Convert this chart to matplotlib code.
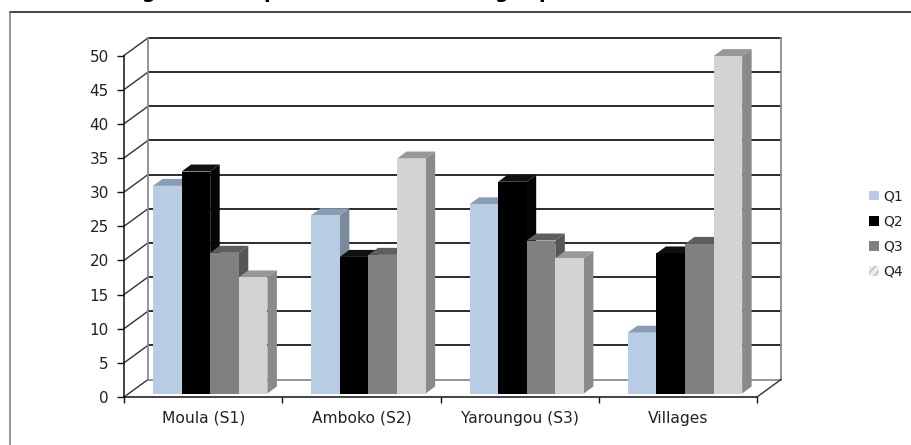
#coding=utf-8

import matplotlib
matplotlib.use("Agg")
import matplotlib.pyplot as plt
from matplotlib.patches import Patch, Polygon

categories = ["Moula (S1)", "Amboko (S2)", "Yaroungou (S3)", "Villages"]
series_names = ["Q1", "Q2", "Q3", "Q4"]
q1 = [30.4, 26.1, 27.7, 8.9]
q2 = [32.5, 20.0, 31.0, 20.5]
q3 = [20.6, 20.3, 22.4, 21.9]
q4 = [17.0, 34.4, 19.8, 49.4]
yticks = list(range(0, 55, 5))

front_colors = ["#B8CCE4", "#000000", "#808080", "#D3D3D3"]
top_colors = ["#8A9DB5", "#111111", "#5E5E5E", "#989898"]
side_colors = ["#788A9C", "#050505", "#565656", "#8A8A8A"]

W, H = 911, 445
fig = plt.figure(figsize=(W / 100, H / 100), dpi=100)
plt.rcParams["font.family"] = ["DejaVu Sans"]

# outer frame of the cropped chart
fig.add_artist(plt.Line2D([10 / W, 1], [1 - 11.5 / H, 1 - 11.5 / H], color="#111111", lw=1.1))
fig.add_artist(plt.Line2D([10 / W, 10 / W], [0, 1 - 11.5 / H], color="#777777", lw=1.1))

# the title is cut off by the image top, only the descenders are seen
for px, s in [(148, "g"), (270, "p"), (501, "g"), (545, "p")]:
    fig.text(px / W, 1 + 2 / H, s, fontsize=14, fontweight="bold", ha="center", va="baseline", color="black")

# axes cover the front plane of the 3d box
ax = fig.add_axes([124 / W, 1 - 397 / H, (757 - 124) / W, (397 - 55.5) / H])
ax.set_xlim(0, 4)
ax.set_ylim(0, 50)
ax.patch.set_visible(False)
for name in ["top", "right"]:
    ax.spines[name].set_visible(False)
for name in ["left", "bottom"]:
    ax.spines[name].set_color("#111111")
    ax.spines[name].set_linewidth(1.1)

px_x = 4 / (757 - 124)
px_y = 50 / (397 - 55.5)
back_dx, back_dy = 24 * px_x, 17.5 * px_y
bar_dx, bar_dy = 9.5 * px_x, 7 * px_y
bar_w = 28.6 * px_x
bar_off = 29 * px_x
bar_base = 3.5 * px_y

# back wall, side wall and floor
for v in yticks:
    col = "#8C8C8C" if v == 0 else "#1A1A1A"
    ax.plot([back_dx, 4 + back_dx], [v + back_dy, v + back_dy], color=col, lw=1.3, clip_on=False, zorder=1)
    ax.plot([0, back_dx], [v, v + back_dy], color="#333333", lw=1.0, clip_on=False, zorder=1)
ax.plot([back_dx, back_dx], [back_dy, 50 + back_dy], color="#8C8C8C", lw=1.3, clip_on=False, zorder=1)
ax.plot([4 + back_dx, 4 + back_dx], [back_dy, 50 + back_dy], color="#8C8C8C", lw=1.3, clip_on=False, zorder=1)
ax.plot([4, 4 + back_dx], [0, back_dy], color="#333333", lw=1.0, clip_on=False, zorder=1)

# bars, left to right so each one hides the side of the previous
series = [q1, q2, q3, q4]
z = 2
for i in range(len(categories)):
    for j, vals in enumerate(series):
        x0 = i + bar_off + j * bar_w
        x1 = x0 + bar_w
        top = vals[i] + bar_base
        front = Polygon([(x0, bar_base), (x1, bar_base), (x1, top), (x0, top)], closed=True,
                        fc=front_colors[j], ec="none", clip_on=False, zorder=z + 2)
        side = Polygon([(x1, bar_base), (x1 + bar_dx, bar_base + bar_dy), (x1 + bar_dx, top + bar_dy), (x1, top)],
                       closed=True, fc=side_colors[j], ec="none", clip_on=False, zorder=z)
        cap = Polygon([(x0, top), (x1, top), (x1 + bar_dx, top + bar_dy), (x0 + bar_dx, top + bar_dy)],
                      closed=True, fc=top_colors[j], ec="none", clip_on=False, zorder=z + 1)
        ax.add_patch(side)
        ax.add_patch(cap)
        ax.add_patch(front)
        z += 3

ax.set_yticks(yticks)
ax.set_xticks(range(len(categories) + 1))
ax.set_xticklabels([])
ax.set_xticks([i + 0.5 for i in range(len(categories))], labels=categories, minor=True)
ax.tick_params(axis="y", length=5, width=1, color="#111111", labelsize=11, labelcolor="#222222", pad=6)
ax.tick_params(axis="x", which="major", length=4.5, width=1, color="#111111")
ax.tick_params(axis="x", which="minor", length=0, labelsize=11.2, labelcolor="#222222", pad=10)

handles = [Patch(fc=front_colors[0], ec="none"), Patch(fc=front_colors[1], ec="none"),
           Patch(fc=front_colors[2], ec="none"), Patch(fc="#EDEDED", ec="#BBBBBB", hatch="////", lw=0)]
fig.legend(handles, series_names, loc="center left", bbox_to_anchor=(866 / W, 1 - 234 / H), frameon=False,
           fontsize=10, handlelength=0.72, handleheight=0.72, handletextpad=0.3, labelspacing=0.8,
           labelcolor="#222222", borderpad=0.2, borderaxespad=0)

fig.savefig("out.png", dpi=100)
